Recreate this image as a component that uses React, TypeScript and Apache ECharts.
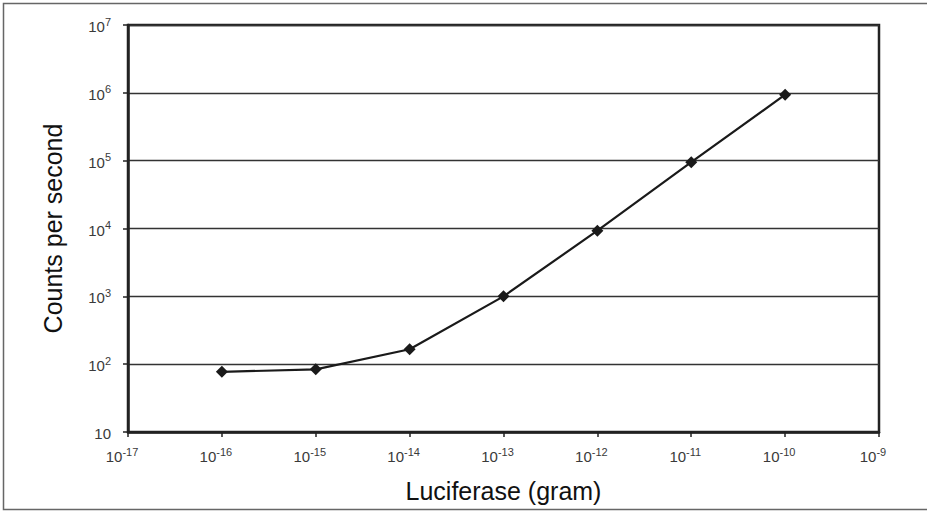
import React, { useEffect, useRef } from "react";
import * as echarts from "echarts";

const massGram = [1e-16, 1e-15, 1e-14, 1e-13, 1e-12, 1e-11, 1e-10];
const countsPerSecond = [77, 84, 166, 1000, 9300, 95000, 940000];
const xTitle = "Luciferase (gram)";
const yTitle = "Counts per second";

const FONT = "'Liberation Sans', Arial, sans-serif";

function supLabel(v: number) {
  const e = Math.round(Math.log10(v));
  if (e === 1) return "{b|10}";
  return `{b|10}{s|${e}}`;
}

const rich = {
  b: { fontSize: 15, lineHeight: 18, verticalAlign: "bottom", color: "#3a3a3a", fontFamily: FONT },
  s: { fontSize: 11, lineHeight: 11, verticalAlign: "top", color: "#3a3a3a", fontFamily: FONT },
};

export default function App() {
  const ref = useRef<HTMLDivElement>(null);
  useEffect(() => {
    if (!ref.current) return;
    const chart = echarts.init(ref.current, undefined, { renderer: "svg" });
    chart.setOption({
      animation: false,
      backgroundColor: "#fff",
      grid: {
        left: 128,
        top: 25,
        right: 48,
        bottom: 80,
        show: true,
        borderColor: "#222",
        borderWidth: 2.5,
        backgroundColor: "transparent",
      },
      graphic: [
        {
          type: "rect",
          shape: { x: 3.5, y: 3.5, width: 935, height: 506 },
          style: { fill: "none", stroke: "#666", lineWidth: 1.5 },
          silent: true,
        },
      ],
      xAxis: {
        type: "log",
        logBase: 10,
        min: 1e-17,
        max: 1e-9,
        splitNumber: 8,
        name: xTitle,
        nameLocation: "middle",
        nameGap: 46,
        nameTextStyle: { fontSize: 25, color: "#111", fontFamily: FONT },
        axisLine: { show: true, lineStyle: { color: "#222", width: 2.5 } },
        axisTick: { show: true, length: 5, lineStyle: { color: "#222", width: 1.5 } },
        minorTick: { show: false },
        splitLine: { show: false },
        axisLabel: { margin: 14, padding: [0, 12, 0, 0], formatter: supLabel, rich },
      },
      yAxis: {
        type: "log",
        logBase: 10,
        min: 10,
        max: 1e7,
        splitNumber: 6,
        name: yTitle,
        nameLocation: "middle",
        nameGap: 63,
        nameTextStyle: { fontSize: 25, color: "#111", fontFamily: FONT },
        axisLine: { show: true, lineStyle: { color: "#222", width: 2.5 } },
        axisTick: { show: true, length: 5, lineStyle: { color: "#222", width: 1.5 } },
        minorTick: { show: false },
        splitLine: { show: true, lineStyle: { color: "#333", width: 1.3 } },
        axisLabel: { margin: 17, formatter: supLabel, rich },
      },
      series: [
        {
          type: "line",
          data: massGram.map((x, i) => [x, countsPerSecond[i]]),
          symbol: "diamond",
          symbolSize: 12,
          lineStyle: { color: "#1a1a1a", width: 2.2 },
          itemStyle: { color: "#1a1a1a" },
        },
      ],
    });
    return () => chart.dispose();
  }, []);
  return (
    <div style={{ position: "fixed", left: 0, top: 0, width: 927, height: 512, background: "#fff" }}>
      <div ref={ref} style={{ width: 927, height: 512 }} />
    </div>
  );
}
